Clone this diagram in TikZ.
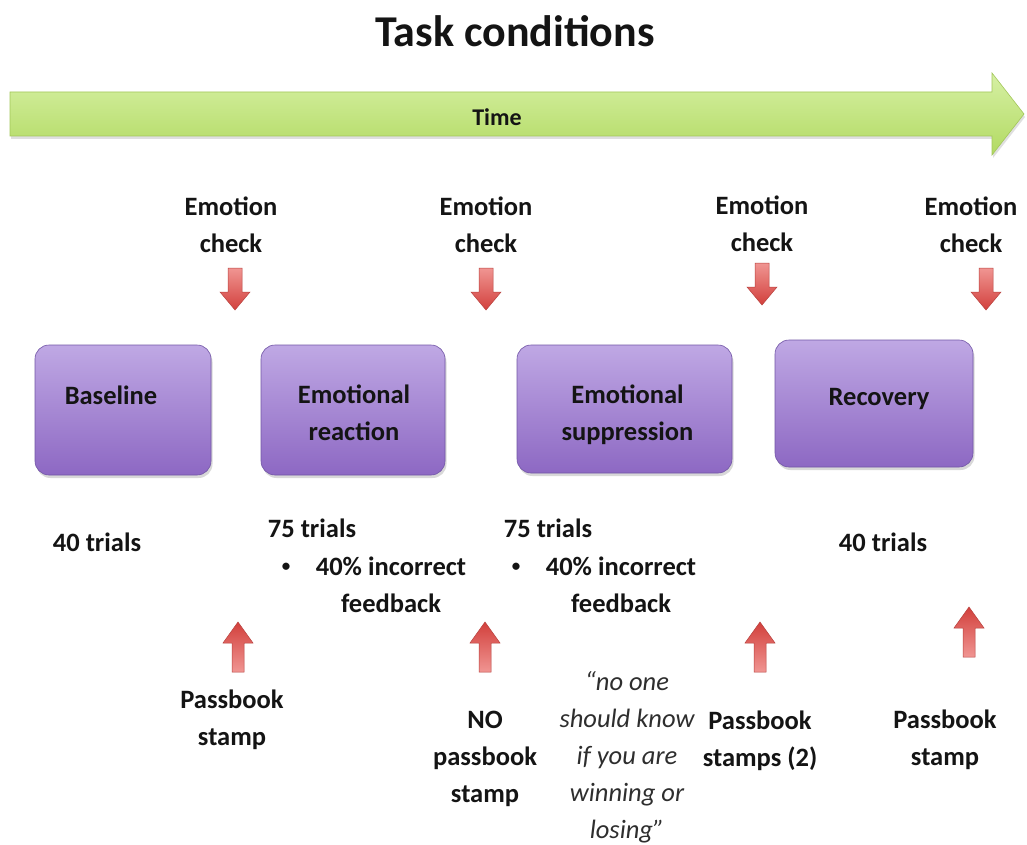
\documentclass[tikz,border=0pt]{standalone}
\usepackage{fontspec}
\setmainfont{Carlito}
\usetikzlibrary{shadows}
\definecolor{txt}{HTML}{141414}
\definecolor{quotec}{HTML}{2E2E2E}
\definecolor{greentop}{HTML}{D6F0A4}
\definecolor{greenbot}{HTML}{B2DA62}
\definecolor{greenline}{HTML}{A3C75A}
\definecolor{purptop}{HTML}{BFA8E4}
\definecolor{purpbot}{HTML}{8D68C3}
\definecolor{purpline}{HTML}{7256A6}
\definecolor{redlight}{HTML}{F09592}
\definecolor{reddark}{HTML}{D2403C}
\definecolor{redline}{HTML}{B8413E}
\tikzset{
  lbl/.style={font=\fontsize{26.5}{37}\selectfont\bfseries, text=txt, align=center, inner sep=0pt},
  bul/.style={font=\fontsize{17}{20}\selectfont\bfseries, text=txt, inner sep=0pt},
  quotelbl/.style={font=\fontsize{26.5}{37}\selectfont\itshape, text=quotec, align=center, inner sep=0pt},
  phase/.style={draw=purpline, line width=0.6pt, rounded corners=14pt, top color=purptop, bottom color=purpbot,
    drop shadow={opacity=0.3, shadow xshift=1.5pt, shadow yshift=-3pt}, inner sep=0pt},
  timearrow/.style={draw=greenline, line width=0.6pt, top color=greentop, bottom color=greenbot,
    drop shadow={opacity=0.25, shadow xshift=1pt, shadow yshift=-3pt}},
  reddown/.style={draw=redline, line width=0.5pt, top color=redlight, bottom color=reddark},
  redup/.style={draw=redline, line width=0.5pt, top color=reddark, bottom color=redlight},
  dnarrow/.pic={\path[reddown] (-7,0) -- (7,0) -- (7,24) -- (15,24) -- (0,42) -- (-15,24) -- (-7,24) -- cycle;},
  uparrow/.pic={\path[redup] (0,0) -- (15,21) -- (6,21) -- (6,50) -- (-6,50) -- (-6,21) -- (-15,21) -- cycle;}
}
\begin{document}
\begin{tikzpicture}[x=1pt,y=-1pt]
\useasboundingbox (0,0) rectangle (1027,845);
\fill[white] (0,0) rectangle (1027,845);

% title
\node[font=\fontsize{44}{50}\selectfont\bfseries, text=txt, inner sep=0pt] (title) at (515,31) {Task conditions};

% time arrow
\path[timearrow] (10,92) -- (992,92) -- (992,73) -- (1024,114) -- (992,155) -- (992,136) -- (10,136) -- cycle;
\node[font=\fontsize{24}{28}\selectfont\bfseries, text=txt, inner sep=0pt] (time) at (497,117) {Time};

% emotion checks
\node[lbl] (ec1) at (231,225) {Emotion\\check};
\node[lbl] (ec2) at (486,225) {Emotion\\check};
\node[lbl] (ec3) at (762,224) {Emotion\\check};
\node[lbl] (ec4) at (971,225) {Emotion\\check};
\pic (d1) at (235,268) {dnarrow};
\pic (d2) at (486,268) {dnarrow};
\pic (d3) at (762,263) {dnarrow};
\pic (d4) at (986,268) {dnarrow};

% phase boxes
\node[phase, minimum width=176pt, minimum height=130pt] (base) at (123,410) {};
\node[phase, minimum width=184pt, minimum height=130pt] (react) at (353,410) {};
\node[phase, minimum width=215pt, minimum height=128pt] (supp) at (624.5,409) {};
\node[phase, minimum width=198pt, minimum height=127pt] (recov) at (874,403.5) {};
\node[lbl] (baset) at (111,395) {Baseline};
\node[lbl] (reactt) at (354,413) {Emotional\\reaction};
\node[lbl] (suppt) at (627.5,415) {Emotional\\suppression};
\node[lbl] (recovt) at (879,399) {Recovery};

% trials
\node[lbl] (tr1) at (97,542) {40 trials};
\node[lbl] (tr2) at (312,528) {75 trials};
\node[bul] (bu2) at (286,567) {•};
\node[lbl] (fb2) at (391,585) {40\% incorrect\\feedback};
\node[lbl] (tr3) at (548,528) {75 trials};
\node[bul] (bu3) at (516,567) {•};
\node[lbl] (fb3) at (621,585) {40\% incorrect\\feedback};
\node[lbl] (tr4) at (883,542) {40 trials};

% up arrows
\pic (u1) at (238,622) {uparrow};
\pic (u2) at (485,622) {uparrow};
\pic (u3) at (760,622) {uparrow};
\pic (u4) at (969,607) {uparrow};

% passbook labels
\node[lbl] (pb1) at (232,720) {Passbook\\stamp};
\node[lbl] (pb2) at (485,759) {NO\\passbook\\stamp};
\node[quotelbl] (qt) at (627,757) {“no one\\should know\\if you are\\winning or\\losing”};
\node[lbl] (pb3) at (760,741) {Passbook\\stamps (2)};
\node[lbl] (pb4) at (945,740) {Passbook\\stamp};
\end{tikzpicture}
\end{document}
